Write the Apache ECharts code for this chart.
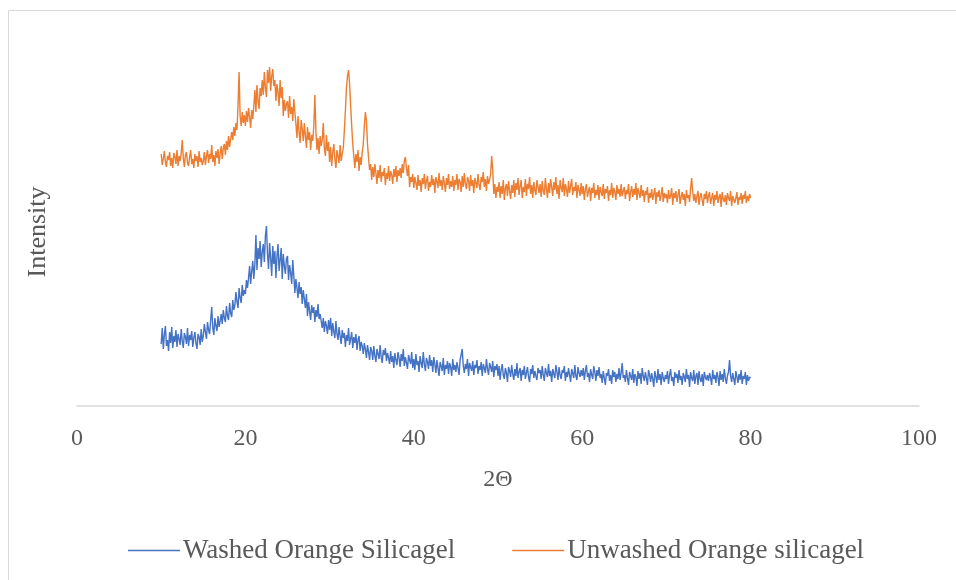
<!DOCTYPE html>
<html>
<head>
<meta charset="utf-8">
<script src="https://cdn.jsdelivr.net/npm/echarts@6/dist/echarts.min.js"></script>
<style>
  html, body { margin: 0; padding: 0; background: #fff; }
</style>
</head>
<body>
<div id="xrd" style="width: 956px; height: 580px;"></div>
<script>
// 2θ scan: first angle and step (degrees)
const thetaStart = 10
const thetaStep = 0.125

// intensity, arbitrary units, one value per step, 5 degrees per row
const washed = [
  62, 78, 57, 71, 80, 60, 66, 55, 74, 63, 79, 58, 70, 64, 76, 59, 72, 67, 61, 77, 65, 58, 73, 69, 62, 78, 60, 71, 66, 75, 59, 68, 74, 63, 57, 72, 69, 61, 77, 64,
  70, 82, 74, 67, 84, 76, 72, 86, 99, 78, 71, 88, 80, 75, 90, 79, 85, 92, 82, 96, 88, 84, 100, 90, 86, 103, 93, 89, 106, 96, 101, 114, 104, 98, 118, 108, 103, 121, 110, 116,
  112, 126, 118, 128, 140, 122, 135, 145, 127, 142, 171, 136, 158, 147, 165, 139, 154, 162, 144, 170, 180, 152, 137, 163, 148, 130, 160, 142, 155, 128, 150, 162, 135, 146, 158, 127, 152, 140, 132, 147,
  150, 126, 141, 133, 122, 146, 130, 113, 127, 118, 108, 124, 112, 119, 102, 116, 107, 98, 112, 90, 104, 95, 86, 101, 93, 99, 84, 96, 89, 102, 87, 92, 93, 78, 88, 74, 85, 80, 72, 86,
  76, 88, 70, 83, 74, 68, 85, 72, 66, 79, 70, 62, 76, 68, 73, 59, 71, 65, 78, 61, 67, 74, 58, 69, 63, 72, 56, 66, 70, 55, 64, 60, 52, 63, 57, 48, 61, 54, 46, 59,
  55, 46, 60, 50, 44, 57, 52, 47, 61, 49, 43, 56, 51, 58, 45, 53, 48, 42, 55, 44, 50, 38, 53, 46, 41, 54, 48, 39, 52, 45, 57, 40, 49, 43, 37, 51, 46, 42, 54, 38,
  47, 36, 52, 41, 45, 34, 50, 43, 38, 54, 42, 35, 48, 44, 37, 51, 40, 46, 34, 49, 42, 33, 46, 38, 30, 44, 40, 35, 48, 31, 41, 37, 45, 32, 43, 39, 30, 47, 36, 41,
  34, 44, 38, 31, 46, 45, 57, 40, 33, 42, 37, 47, 30, 43, 39, 35, 45, 31, 41, 38, 46, 32, 40, 36, 44, 30, 42, 38, 33, 47, 37, 31, 43, 39, 34, 45, 29, 40, 36, 42,
  30, 40, 26, 36, 42, 31, 27, 38, 33, 24, 39, 35, 29, 41, 32, 26, 37, 30, 43, 28, 34, 38, 25, 36, 31, 40, 27, 33, 39, 29, 24, 37, 32, 41, 28, 35, 30, 26, 38, 33,
  36, 27, 40, 31, 25, 38, 33, 29, 42, 30, 35, 24, 37, 32, 28, 41, 34, 26, 39, 31, 27, 36, 33, 40, 25, 34, 29, 38, 31, 24, 37, 35, 28, 41, 30, 26, 39, 33, 29, 36,
  30, 38, 26, 35, 41, 29, 33, 24, 37, 31, 27, 40, 34, 25, 36, 30, 39, 28, 32, 23, 35, 28, 21, 33, 30, 37, 25, 31, 22, 36, 29, 34, 24, 32, 27, 38, 26, 33, 43, 28,
  31, 24, 36, 28, 21, 34, 30, 26, 37, 23, 32, 29, 20, 35, 27, 33, 22, 38, 30, 25, 34, 28, 21, 36, 31, 24, 33, 27, 19, 35, 29, 23, 37, 26, 32, 21, 34, 28, 24, 31,
  27, 35, 22, 31, 37, 25, 29, 20, 34, 28, 32, 23, 36, 26, 30, 21, 33, 29, 24, 37, 27, 31, 19, 34, 28, 25, 36, 22, 30, 33, 21, 35, 27, 24, 32, 20, 34, 29, 26, 31,
  25, 33, 28, 21, 36, 27, 31, 23, 34, 29, 20, 35, 26, 32, 24, 37, 28, 22, 30, 34, 46, 30, 24, 33, 27, 21, 35, 29, 23, 32, 26, 36, 22, 30, 27, 34, 21, 31, 25, 29,
  28
]

const unwashed = [
  252, 241, 247, 255, 244, 239, 250, 246, 254, 240, 248, 238, 253, 249, 242, 256, 240, 250, 245, 253, 266, 248, 239, 251, 254, 243, 240, 249, 256, 242, 247, 238, 252, 245, 250, 239, 255, 244, 248, 241,
  245, 254, 241, 250, 256, 243, 252, 247, 261, 244, 251, 240, 255, 248, 257, 242, 252, 260, 247, 258, 262, 251, 265, 256, 270, 259, 267, 274, 266, 279, 270, 283, 276, 300, 334, 290, 280, 294, 283, 291,
  280, 295, 284, 298, 289, 278, 296, 287, 300, 316, 294, 321, 305, 297, 318, 310, 326, 311, 334, 318, 309, 336, 323, 339, 315, 330, 337, 320, 326, 305, 322, 314, 300, 326, 308, 319, 290, 306, 295, 302,
  305, 288, 310, 292, 299, 285, 307, 294, 282, 268, 290, 274, 263, 286, 277, 265, 283, 270, 258, 279, 266, 274, 256, 271, 265, 280, 311, 275, 256, 268, 252, 270, 260, 266, 283, 258, 250, 271, 255, 264,
  244, 259, 240, 254, 262, 247, 238, 256, 250, 243, 261, 245, 252, 258, 275, 295, 318, 330, 336, 322, 300, 280, 262, 250, 238, 252, 244, 256, 235, 249, 241, 254, 262, 280, 294, 285, 262, 248, 236, 242,
  226, 239, 229, 242, 233, 222, 236, 228, 241, 224, 234, 230, 238, 221, 233, 227, 240, 225, 235, 231, 222, 237, 229, 240, 224, 236, 230, 238, 228, 242, 233, 245, 249, 238, 230, 241, 219, 229, 224, 232,
  218, 229, 223, 216, 231, 220, 226, 214, 228, 222, 232, 217, 225, 230, 215, 224, 219, 231, 221, 227, 213, 229, 224, 218, 233, 220, 226, 216, 230, 223, 214, 228, 221, 232, 217, 225, 219, 230, 215, 226,
  221, 232, 216, 227, 224, 214, 230, 219, 233, 222, 217, 229, 225, 215, 231, 220, 226, 213, 228, 223, 218, 232, 221, 216, 229, 224, 234, 219, 227, 215, 230, 222, 226, 232, 250, 236, 212, 222, 208, 219,
  214, 224, 208, 220, 212, 226, 206, 218, 222, 210, 225, 215, 207, 221, 213, 226, 209, 223, 216, 228, 211, 220, 226, 208, 219, 214, 227, 210, 222, 217, 229, 212, 221, 208, 224, 216, 211, 226, 219, 213,
  222, 209, 225, 215, 211, 228, 217, 208, 223, 213, 227, 219, 210, 224, 216, 229, 212, 221, 207, 226, 218, 214, 228, 210, 222, 217, 209, 225, 213, 220, 227, 211, 219, 215, 224, 208, 221, 216, 210, 223,
  212, 220, 206, 217, 222, 209, 215, 219, 205, 218, 213, 223, 208, 216, 211, 221, 206, 219, 214, 210, 222, 207, 217, 213, 220, 205, 216, 211, 223, 208, 218, 214, 206, 221, 212, 217, 209, 222, 210, 215,
  219, 207, 216, 212, 222, 205, 214, 220, 209, 217, 211, 223, 206, 218, 213, 208, 221, 210, 216, 204, 215, 211, 219, 203, 213, 208, 217, 206, 212, 218, 202, 214, 209, 216, 205, 211, 219, 204, 213, 208,
  212, 203, 216, 207, 210, 218, 201, 213, 208, 215, 204, 211, 217, 202, 209, 214, 206, 212, 200, 216, 208, 211, 204, 218, 228, 214, 205, 212, 203, 210, 215, 201, 209, 213, 206, 200, 212, 207, 215, 203,
  210, 214, 202, 208, 213, 200, 211, 206, 215, 203, 209, 212, 199, 214, 207, 204, 211, 201, 213, 208, 205, 215, 200, 210, 212, 203, 208, 214, 201, 209, 206, 213, 202, 211, 207, 215, 203, 210, 205, 212,
  208
]

// axis ticks
const xTicks = [0, 20, 40, 60, 80, 100]

const seriesNames = ['Washed Orange Silicagel', 'Unwashed Orange silicagel']
const seriesColors = ['#4472C4', '#ED7D31']

const toPairs = arr => arr.map((v, i) => [thetaStart + i * thetaStep, v])

const font = "'Liberation Serif', 'Times New Roman', serif"
const textColor = '#595959'

const chart = echarts.init(document.getElementById('xrd'), null, { renderer: 'canvas' })
chart.setOption({
  animation: false,
  backgroundColor: '#ffffff',
  grid: {
    left: 77,
    right: 37,
    top: 46,
    bottom: 174
  },
  legend: {
    top: 532,
    left: 123,
    itemWidth: 52,
    itemHeight: 14,
    itemGap: 57,
    icon: 'path://M0,7L52,7L52,8.4L0,8.4Z',
    textStyle: {
      fontFamily: font,
      fontSize: 27,
      color: textColor,
      padding: [0, 0, 0, -2]
    },
    data: seriesNames
  },
  xAxis: {
    type: 'value',
    min: xTicks[0],
    max: xTicks[xTicks.length - 1],
    interval: xTicks[1] - xTicks[0],
    name: '2Θ',
    nameLocation: 'middle',
    nameGap: 62,
    nameTextStyle: { fontFamily: font, fontSize: 24, color: textColor },
    axisLine: { lineStyle: { color: '#d9d9d9', width: 1.5 } },
    axisTick: { show: false },
    splitLine: { show: false },
    axisLabel: { fontFamily: font, fontSize: 24, color: textColor, margin: 21 }
  },
  yAxis: {
    type: 'value',
    min: 0,
    max: 360,
    show: false
  },
  graphic: [
    {
      type: 'rect',
      silent: true,
      shape: { x: 8.5, y: 10.5, width: 960, height: 600 },
      style: { fill: 'none', stroke: '#d9d9d9', lineWidth: 1 }
    },
    {
      type: 'text',
      x: 38,
      y: 232,
      rotation: Math.PI / 2,
      style: {
        text: 'Intensity',
        font: '26px ' + font,
        fill: textColor,
        align: 'center',
        verticalAlign: 'middle'
      }
    }
  ],
  series: seriesNames.map((name, k) => ({
    name: name,
    type: 'line',
    symbol: 'none',
    sampling: null,
    color: seriesColors[k],
    lineStyle: { color: seriesColors[k], width: 1.4 },
    data: toPairs(k === 0 ? washed : unwashed)
  }))
})
</script>
</body>
</html>
